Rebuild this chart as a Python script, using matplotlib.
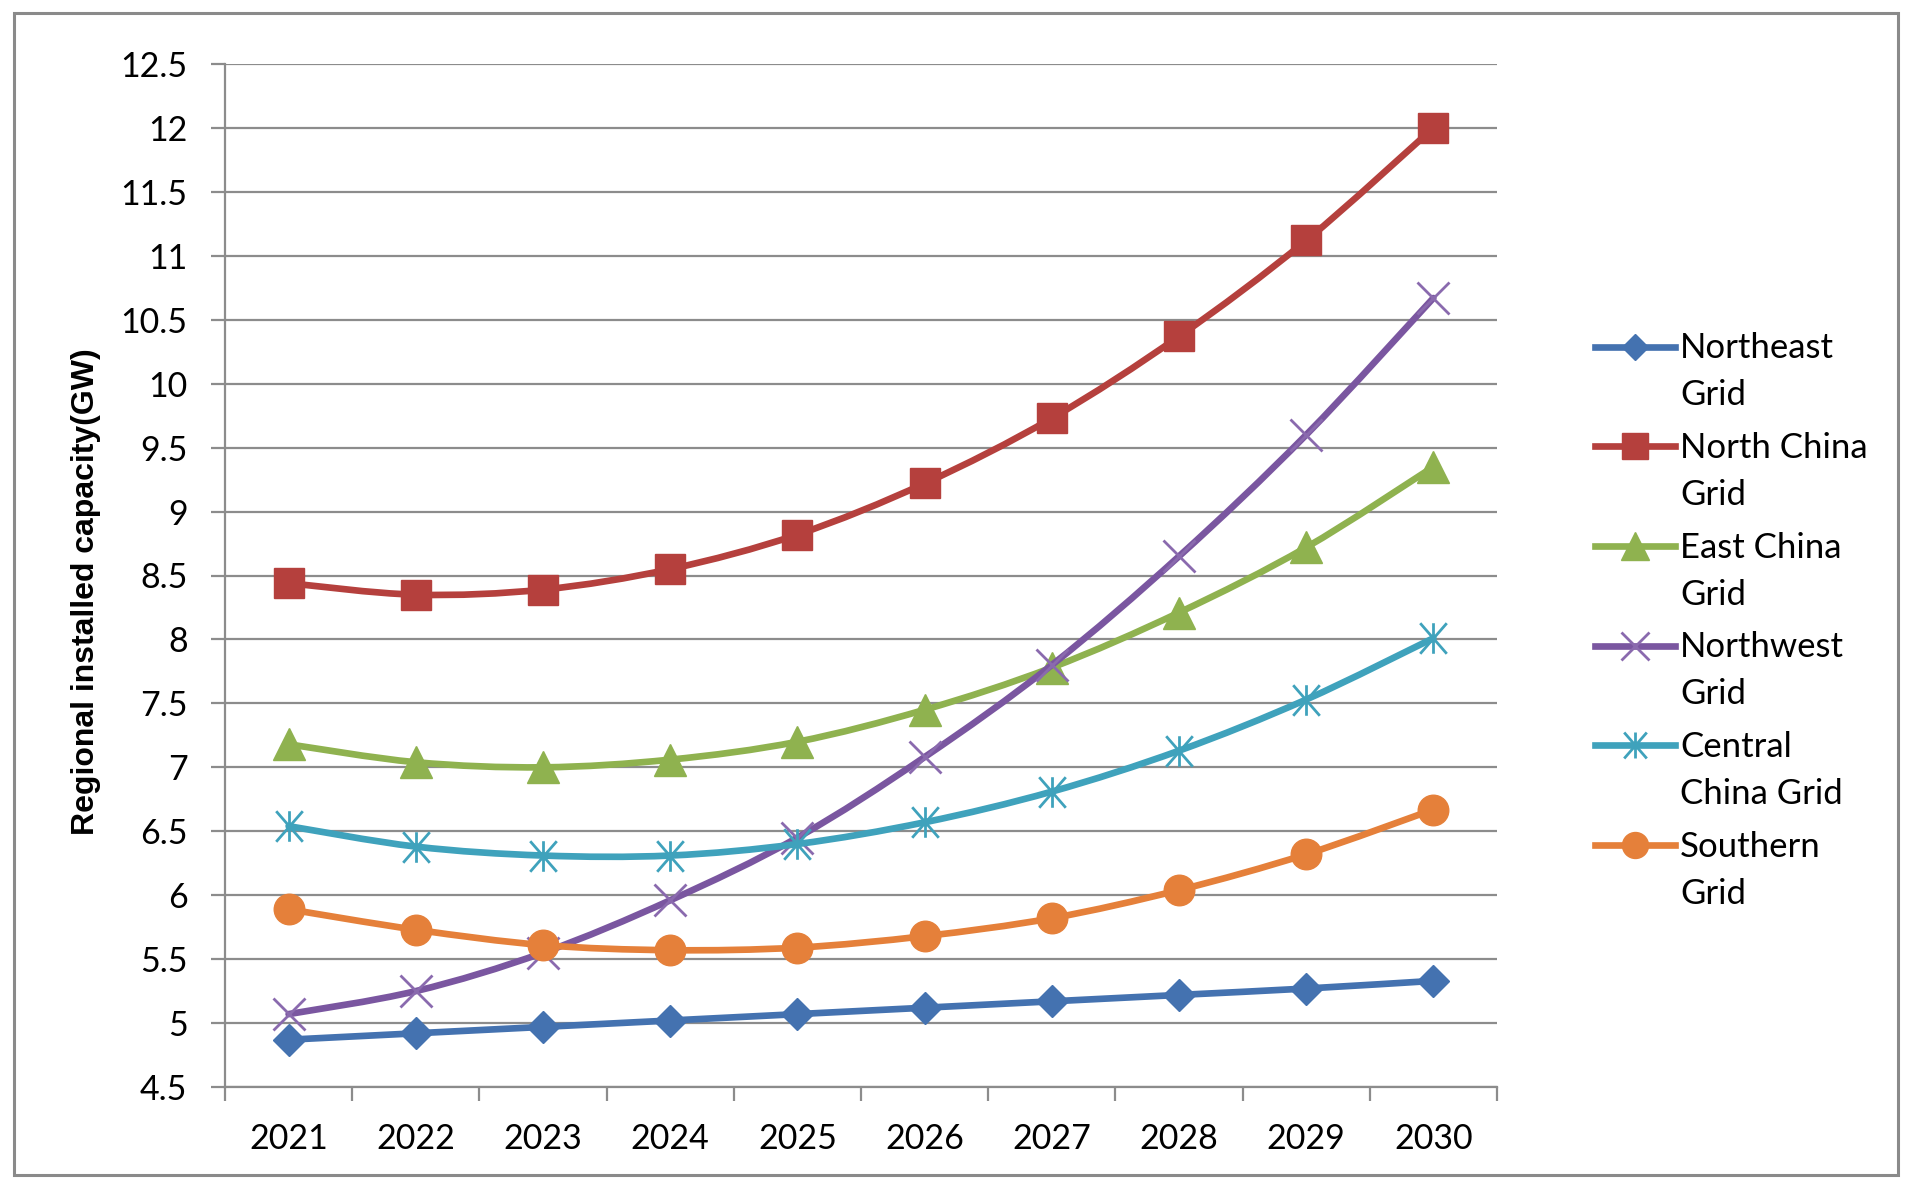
import matplotlib
matplotlib.use("Agg")
import matplotlib.pyplot as plt
from matplotlib.path import Path
from matplotlib.patches import PathPatch, Rectangle
from matplotlib.lines import Line2D
import numpy as np

years = ["2021", "2022", "2023", "2024", "2025", "2026", "2027", "2028", "2029", "2030"]
northeast = [4.87, 4.92, 4.97, 5.02, 5.07, 5.12, 5.17, 5.22, 5.27, 5.33]
north_china = [8.44, 8.35, 8.39, 8.55, 8.82, 9.22, 9.73, 10.37, 11.12, 12.0]
east_china = [7.18, 7.04, 7.00, 7.06, 7.20, 7.45, 7.78, 8.21, 8.72, 9.35]
northwest = [5.07, 5.25, 5.55, 5.96, 6.45, 7.08, 7.80, 8.65, 9.60, 10.67]
central_china = [6.54, 6.38, 6.31, 6.31, 6.40, 6.57, 6.81, 7.13, 7.53, 8.01]
southern = [5.89, 5.73, 5.61, 5.57, 5.59, 5.68, 5.82, 6.04, 6.32, 6.67]
labels = ["Northeast\nGrid", "North China\nGrid", "East China\nGrid",
          "Northwest\nGrid", "Central\nChina Grid", "Southern\nGrid"]
yticks = [4.5, 5, 5.5, 6, 6.5, 7, 7.5, 8, 8.5, 9, 9.5, 10, 10.5, 11, 11.5, 12, 12.5]
ytick_labels = ["4.5", "5", "5.5", "6", "6.5", "7", "7.5", "8", "8.5", "9", "9.5",
                "10", "10.5", "11", "11.5", "12", "12.5"]

series = [northeast, north_china, east_china, northwest, central_china, southern]
colors = ["#4472B0", "#B5403D", "#8FB24F", "#7A56A0", "#3FA2BC", "#E5803A"]
mcolors = ["#4472B0", "#B5403D", "#8FB24F", "#8A6AAE", "#3FA2BC", "#E5803A"]

star = Path([(0, -1), (0, 1), (-0.87, -1), (0.87, 1), (-0.87, 1), (0.87, -1)],
            [Path.MOVETO, Path.LINETO, Path.MOVETO, Path.LINETO, Path.MOVETO, Path.LINETO])
markers = ["D", "s", "^", "x", star, "o"]
msizes = [16, 22, 23, 23, 22, 22]
filled = [True, True, True, False, False, True]

plt.rcParams['font.family'] = ['Lato', 'DejaVu Sans']

fig = plt.figure(figsize=(19.14, 11.86), dpi=100)
ax = fig.add_axes([225 / 1914, 1 - 1087 / 1186, (1497 - 225) / 1914, (1087 - 64) / 1186])

x = np.arange(len(years))


def smooth_path(xs, ys):
    pts = np.column_stack([xs, ys]).astype(float)
    n = len(pts)
    verts = [pts[0]]
    codes = [Path.MOVETO]
    for i in range(n - 1):
        p0 = pts[i - 1] if i > 0 else pts[i]
        p1 = pts[i]
        p2 = pts[i + 1]
        p3 = pts[i + 2] if i + 2 < n else pts[i + 1]
        c1 = p1 + (p2 - p0) / 6.0
        c2 = p2 - (p3 - p1) / 6.0
        verts += [c1, c2, p2]
        codes += [Path.CURVE4, Path.CURVE4, Path.CURVE4]
    return Path(verts, codes)


handles = []
for k, (vals, c, mc, m, ms, f) in enumerate(zip(series, colors, mcolors, markers, msizes, filled)):
    patch = PathPatch(smooth_path(x, vals), facecolor="none", edgecolor=c, lw=4.8,
                      transform=ax.transData, zorder=3 + 2 * k, capstyle="round", joinstyle="round")
    ax.add_patch(patch)
    if f:
        ax.plot(x, vals, linestyle="none", marker=m, markersize=ms, markerfacecolor=mc,
                markeredgecolor=mc, markeredgewidth=1, zorder=4 + 2 * k)
    else:
        ax.plot(x, vals, linestyle="none", marker=m, markersize=ms, markerfacecolor="none",
                markeredgecolor=mc, markeredgewidth=2.0, zorder=4 + 2 * k)
    handles.append(Line2D([0], [0], color=c, lw=4.8, marker=m, markersize=ms * 0.85,
                          markerfacecolor=mc if f else "none", markeredgecolor=mc,
                          markeredgewidth=1 if f else 2.0))

ax.set_xlim(-0.5, len(years) - 0.5)
ax.set_ylim(4.5, 12.5)
ax.set_yticks(yticks)
ax.set_yticklabels(ytick_labels)
ax.set_xticks(x)
ax.set_xticklabels(years)
ax.set_xticks(np.arange(-0.5, len(years), 1.0), minor=True)

gridc = "#8C8C8C"
ax.grid(axis="y", color=gridc, lw=1.6, zorder=0)
ax.set_axisbelow(True)
for s in ["top", "right"]:
    ax.spines[s].set_visible(False)
for s in ["left", "bottom"]:
    ax.spines[s].set_color(gridc)
    ax.spines[s].set_linewidth(1.6)

ax.tick_params(axis="x", which="major", length=0, pad=26, labelsize=24.5, colors="black")
ax.tick_params(axis="x", which="minor", length=10, width=1.6, color=gridc, direction="out")
ax.tick_params(axis="y", which="major", length=10, width=1.6, color=gridc, pad=17,
               labelsize=24.5, labelcolor="black")

fig.text(86 / 1914, 1 - 592 / 1186, "Regional installed capacity(GW)", rotation=90,
         ha="center", va="center", fontsize=23, fontweight="bold",
         family=["Liberation Sans", "DejaVu Sans"])

leg = fig.legend(handles, labels, loc="center left", bbox_to_anchor=(1595 / 1914, 1 - 621 / 1186),
                 frameon=False, fontsize=25, handlelength=2.3, handletextpad=0.15,
                 handleheight=1.1, labelspacing=0.6, borderaxespad=0, borderpad=0)
for t in leg.get_texts():
    t.set_linespacing(1.57)
try:
    for col in leg._legend_handle_box.get_children():
        for hp in col.get_children():
            hp.align = "top"
except Exception:
    pass

fig.patches.append(Rectangle((14 / 1914, 1 - 1175 / 1186), (1898 - 14) / 1914, (1175 - 13) / 1186,
                             transform=fig.transFigure, fill=False, edgecolor="#8A8A8A", lw=2.2))

fig.savefig("out.png", dpi=100)
